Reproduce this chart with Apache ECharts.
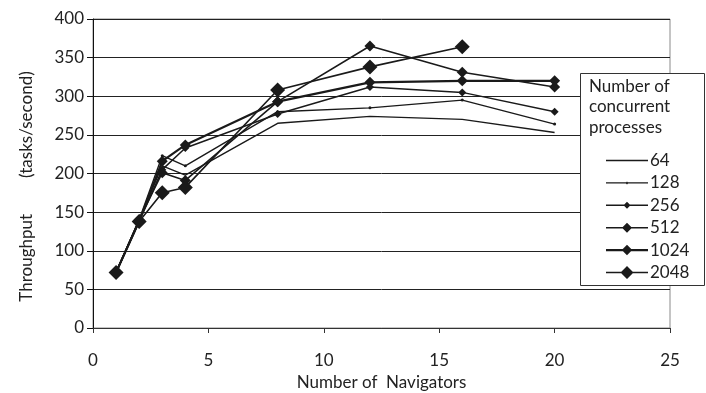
<!DOCTYPE html>
<html>
<head>
<meta charset="utf-8">
<script src="https://cdn.jsdelivr.net/npm/echarts@6/dist/echarts.min.js"></script>
<style>
  html, body { margin: 0; padding: 0; background: #fff; }
  #chart { width: 706px; height: 393px; }
</style>
</head>
<body>
<div id="chart"></div>
<script>
// navigators on the x axis
var navigators = [1, 2, 3, 4, 8, 12, 16, 20];
var names = ['64', '128', '256', '512', '1024', '2048'];

// throughput (tasks/second) per number of concurrent processes
var p64   = [72, 140, 210, 198, 265, 274, 270, 253];
var p128  = [72, 140, 223, 210, 280, 285, 295, 264];
var p256  = [72, 138, 205, 233, 277, 312, 305, 280];
var p512  = [72, 140, 201, 191, 293, 365, 331, 312];
var p1024 = [72, 138, 216, 237, 293, 318, 320, 320];
var p2048 = [72, 138, 175, 182, 308, 338, 364];

var yTicks = [0, 50, 100, 150, 200, 250, 300, 350, 400];
var xTicks = [0, 5, 10, 15, 20, 25];

var font = 'Lato, "Noto Sans", sans-serif';
var fs = 17;

function pairs(vals) {
    return vals.map(function (v, i) { return [navigators[i], v]; });
}

// legend sample: a line 42 wide with a diamond of size s in the middle
function legendIcon(s, lw) {
    var a = 7 - lw / 2, b = 7 + lw / 2;
    var p = 'path://M0,' + a + 'L42,' + a + 'L42,' + b + 'L0,' + b + 'Z';
    if (s > 0) {
        var h = s / 2;
        p += 'M21,' + (7 - h) + 'L' + (21 + h) + ',7L21,' + (7 + h) + 'L' + (21 - h) + ',7Z';
    }
    return p;
}

function mk(name, vals, symbol, size, width) {
    return {
        name: name,
        type: 'line',
        data: pairs(vals),
        symbol: symbol,
        symbolSize: size,
        showSymbol: symbol !== 'none',
        lineStyle: { color: '#1a1a1a', width: width },
        itemStyle: { color: '#1a1a1a' },
        emphasis: { disabled: true },
        animation: false,
        z: 2
    };
}

var myChart = echarts.init(document.getElementById('chart'), null, { renderer: 'canvas' });

var option = {
    backgroundColor: '#fff',
    textStyle: { fontFamily: font },
    grid: {
        left: 93, right: 36, top: 19, bottom: 65,
        outerBoundsMode: 'none',
        containLabel: false,
        show: true, borderColor: '#8a8a8a', borderWidth: 1
    },
    xAxis: {
        type: 'value',
        min: xTicks[0], max: xTicks[xTicks.length - 1], interval: 5,
        name: 'Number of  Navigators',
        nameLocation: 'middle',
        nameGap: 44,
        nameTextStyle: { fontSize: fs, color: '#222', fontFamily: font },
        axisLine: { lineStyle: { color: '#333', width: 1 } },
        axisTick: { show: true, length: 5, lineStyle: { color: '#333' } },
        axisLabel: { fontSize: fs, color: '#222', margin: 24, fontFamily: font },
        splitLine: { show: false }
    },
    yAxis: {
        type: 'value',
        min: yTicks[0], max: yTicks[yTicks.length - 1], interval: 50,
        name: '{a|Throughput}{g|}{b|(tasks/second)}{e|}',
        nameLocation: 'middle',
        nameGap: 58,
        nameRotate: 90,
        nameTextStyle: {
            fontSize: fs, color: '#222', fontFamily: font,
            rich: {
                a: { fontSize: fs, color: '#222', fontFamily: font },
                b: { fontSize: fs, color: '#222', fontFamily: font },
                g: { width: 36 },
                e: { width: 26 }
            }
        },
        axisLine: { show: true, lineStyle: { color: '#111', width: 1 } },
        axisTick: { show: true, length: 6, lineStyle: { color: '#111' } },
        axisLabel: { fontSize: fs, color: '#222', margin: 9, fontFamily: font },
        splitLine: { show: true, lineStyle: { color: '#222', width: 1 } }
    },
    legend: {
        orient: 'vertical',
        left: 601,
        top: 147,
        itemWidth: 42,
        itemHeight: 14,
        itemGap: 5.4,
        z: 6,
        itemStyle: { borderWidth: 0 },
        textStyle: { fontSize: fs, color: '#222', fontFamily: font, padding: [0, 0, 0, -3] },
        data: [
            { name: names[0], icon: legendIcon(0, 1.4) },
            { name: names[1], icon: legendIcon(3, 1.4) },
            { name: names[2], icon: legendIcon(7, 1.5) },
            { name: names[3], icon: legendIcon(10, 1.6) },
            { name: names[4], icon: legendIcon(10.5, 2.2) },
            { name: names[5], icon: legendIcon(13, 1.6) }
        ]
    },
    graphic: [
        {
            type: 'rect', z: 5,
            shape: { x: 580.5, y: 73.5, width: 124, height: 212 },
            style: { fill: '#fff', stroke: '#333', lineWidth: 1 }
        },
        {
            type: 'text', z: 6, left: 589, top: 76,
            style: {
                text: 'Number of\nconcurrent\nprocesses',
                font: fs + 'px ' + font,
                fill: '#222',
                lineHeight: 20.5
            }
        }
    ],
    series: [
        mk('64', p64, 'none', 0, 1.4),
        mk('128', p128, 'circle', 3, 1.4),
        mk('256', p256, 'diamond', 8, 1.5),
        mk('512', p512, 'diamond', 11, 1.6),
        mk('1024', p1024, 'diamond', 11, 2.2),
        mk('2048', p2048, 'diamond', 15, 1.6)
    ]
};

myChart.setOption(option);

window.addEventListener('resize', function () {
    myChart.resize();
}, false);
</script>
</body>
</html>
